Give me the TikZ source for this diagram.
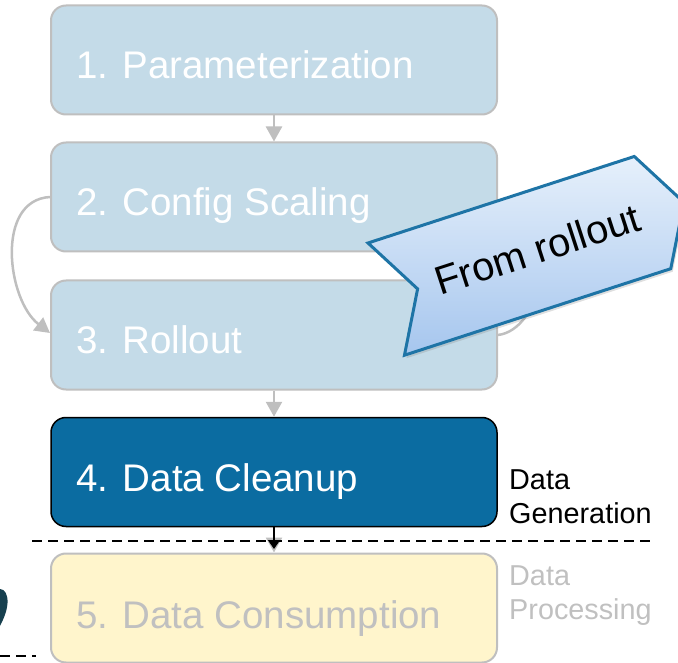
\documentclass[tikz,border=0pt]{standalone}
\usepackage{fontspec}
\setmainfont{Liberation Sans}
\usetikzlibrary{arrows.meta,shadows,calc}
\definecolor{boxblue}{HTML}{C4DBE8}
\definecolor{boxgray}{HTML}{BFBFBF}
\definecolor{darkblue}{HTML}{0B6CA1}
\definecolor{paleyellow}{HTML}{FFF5CC}
\definecolor{fadetext}{HTML}{C0C0C0}
\definecolor{calloutline}{HTML}{1E74A6}
\definecolor{calloutlight}{HTML}{E6F0FB}
\definecolor{calloutdark}{HTML}{A6C6EE}
\definecolor{blobcolor}{HTML}{17404F}
\begin{document}
\begin{tikzpicture}[x=1pt,y=1pt,
  stepbox/.style={draw=boxgray, line width=2pt, rounded corners=15pt,
    minimum width=446pt, minimum height=109pt, inner sep=0pt},
  lbl/.style={anchor=base west, inner sep=0pt, font=\fontsize{38.5}{46}\selectfont},
  side/.style={anchor=north west, inner sep=0pt, align=left,
    font=\fontsize{28.8}{34}\selectfont},
  garrow/.style={draw=boxgray, line width=2.5pt,
    -{Triangle[width=16pt,length=15pt]}},
  karrow/.style={draw=black, line width=1.5pt,
    -{Triangle[width=12pt,length=9pt]}},
  callout/.style={draw=calloutline, line width=3pt, line join=miter,
    top color=calloutlight, bottom color=calloutdark,
    drop shadow={opacity=0.25, shadow xshift=2pt, shadow yshift=-3pt}},
  sepline/.style={draw=black, line width=1.5pt, dash pattern=on 10pt off 6pt}
]
\useasboundingbox (0,0) rectangle (678,-663);
\clip (0,0) rectangle (678,-663);

% boxes
\node[stepbox, fill=boxblue] (b1) at (274,-60) {};
\node[stepbox, fill=boxblue] (b2) at (274,-197) {};
\node[stepbox, fill=boxblue] (b3) at (274,-335) {};
\node[stepbox, fill=darkblue, draw=black, line width=1.5pt] (b4) at (274,-472) {};
\node[stepbox, fill=paleyellow] (b5) at (274,-608) {};

% labels
\node[lbl, text=white] (t1) at ([xshift=26pt,yshift=-19pt]b1.west) {1. Parameterization};
\node[lbl, text=white] (t2) at ([xshift=26pt,yshift=-19pt]b2.west) {2. Config Scaling};
\node[lbl, text=white] (t3) at ([xshift=26pt,yshift=-19pt]b3.west) {3. Rollout};
\node[lbl, text=white] (t4) at ([xshift=26pt,yshift=-19pt]b4.west) {4. Data Cleanup};
\node[lbl, text=fadetext] (t5) at ([xshift=26pt,yshift=-20pt]b5.west) {5. Data Consumption};

% connectors
\draw[garrow] (b1.south) -- (b2.north);
\draw[garrow] (b3.south) -- (b4.north);
\draw[garrow] (b4.south) -- (b5.north);
\coordinate (k) at (274,-549);
\draw[karrow] (b4.south) -- (k);
\draw[garrow] (b2.west) .. controls (-5,-200) and (7,-300) .. ([yshift=2pt]b3.west);
\draw[garrow] (b3.east) .. controls (540,-330) and (560,-240) .. ([yshift=-30pt]b2.east);

% separator
\coordinate (s1) at (32,-541);
\coordinate (s2) at (656,-541);
\draw[sepline] (s1) -- (s2);
\coordinate (s3) at (0,-656);
\coordinate (s4) at (36,-656);
\draw[sepline] (s3) -- (s4);

% side labels
\node[side, text=black] (g) at (509,-469) {Data\\Generation};
\node[side, text=fadetext] (p) at (509,-565) {Data\\Processing};

% partial blob at left edge
\fill[blobcolor] (0,-589) .. controls (5,-589) and (8,-595) .. (7.5,-603)
  .. controls (7,-612) and (3,-620) .. (0,-626) -- cycle;

% callout
\begin{scope}[shift={(368,-243)}, rotate=18]
\draw[callout] (0,0) -- (280,0) -- (313,-59) -- (280,-118) -- (0,-118) -- (33,-59) -- cycle;
\node[rotate=18, inner sep=0pt, font=\fontsize{40}{48}\selectfont] (ct) at (159,-58) {From rollout};
\end{scope}
\end{tikzpicture}
\end{document}
